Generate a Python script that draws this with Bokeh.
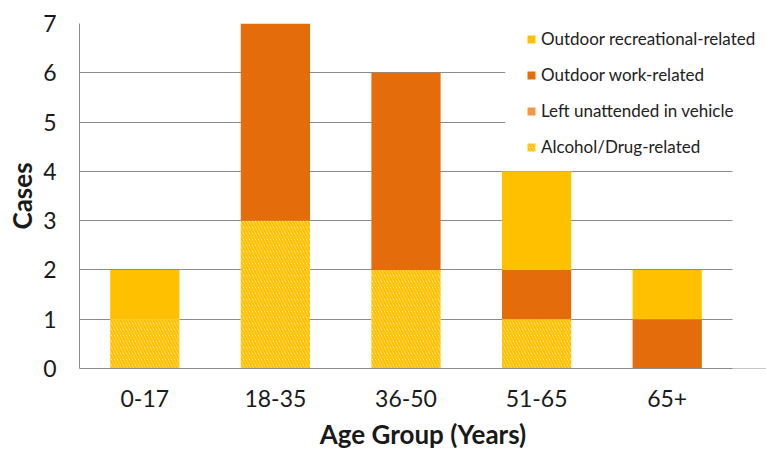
from bokeh.plotting import figure
from bokeh.models import Legend, LegendItem, BoxAnnotation, SingleIntervalTicker, FixedTicker, Range1d
from bokeh.transform import stack
from bokeh.embed import file_html
from bokeh.resources import INLINE
from bokeh.models import ColumnDataSource

age_groups = ["0-17", "18-35", "36-50", "51-65", "65+"]
alcohol_drug = [1, 3, 2, 1, 0]
left_in_vehicle = [0, 0, 0, 0, 0]
outdoor_work = [0, 4, 4, 1, 1]
outdoor_rec = [1, 0, 0, 2, 1]

series = ["alcohol_drug", "left_in_vehicle", "outdoor_work", "outdoor_rec"]
labels = {
    "outdoor_rec": "Outdoor recreational-related",
    "outdoor_work": "Outdoor work-related",
    "left_in_vehicle": "Left unattended in vehicle",
    "alcohol_drug": "Alcohol/Drug-related",
}
colors = {
    "alcohol_drug": "#FFC000",
    "left_in_vehicle": "#F79646",
    "outdoor_work": "#E46C0A",
    "outdoor_rec": "#FFC000",
}

n = len(age_groups)
xpos = [i + 0.5 for i in range(n)]

source = ColumnDataSource(dict(
    x=xpos,
    alcohol_drug=alcohol_drug,
    left_in_vehicle=left_in_vehicle,
    outdoor_work=outdoor_work,
    outdoor_rec=outdoor_rec,
))

FONT = "Lato"
W, H = 766, 452
LEFT, RIGHT, TOP, BOTTOM = 79, 0, 23, 84
cat_px = 653 / n                      # pixel width of one category slot
x_end = (W - LEFT - RIGHT) / cat_px   # range extends past the last category for the legend

p = figure(
    x_range=Range1d(0, x_end),
    y_range=Range1d(0, 7),
    width=W, height=H,
    min_border_left=LEFT, min_border_right=RIGHT, min_border_top=TOP, min_border_bottom=BOTTOM,
    output_backend="svg", toolbar_location=None,
)

renderers = {}
for i, s in enumerate(series):
    if s == "alcohol_drug":
        kw = dict(fill_color="white", hatch_pattern="left_diagonal_line",
                  hatch_color="#FFC000", hatch_scale=6, hatch_weight=2.4,
                  line_color=None)
    else:
        kw = dict(fill_color=colors[s], line_color=None)
    r = p.vbar(x="x", width=0.53, bottom=stack(*series[:i]), top=stack(*series[:i + 1]),
               source=source, **kw)
    renderers[s] = r

# white areas: behind the legend, and right of the last category
p.add_layout(BoxAnnotation(left=3.26, right=x_end, bottom=4.16, top=7.3,
                           fill_color="white", fill_alpha=1, line_color=None))
p.add_layout(BoxAnnotation(left=n, right=x_end + 1, bottom=-0.5, top=7.3,
                           fill_color="white", fill_alpha=1, line_color=None))

legend = Legend(
    items=[LegendItem(label=labels[s], renderers=[renderers[s]])
           for s in ["outdoor_rec", "outdoor_work", "left_in_vehicle", "alcohol_drug"]],
    location=(447, 211),
    glyph_width=10, glyph_height=10, label_height=20, spacing=15, padding=10,
    label_standoff=5, label_text_font=FONT, label_text_font_size="17px",
    label_text_color="#222222",
    background_fill_alpha=0, border_line_color=None,
)
p.add_layout(legend)

p.xgrid.grid_line_color = None
p.ygrid.grid_line_color = "#8C8C8C"
p.ygrid.grid_line_width = 1
p.yaxis.ticker = SingleIntervalTicker(interval=1)
p.xaxis.ticker = FixedTicker(ticks=xpos)
p.xaxis.major_label_overrides = {x: g for x, g in zip(xpos, age_groups)}
p.outline_line_color = None

for ax in [p.xaxis[0], p.yaxis[0]]:
    ax.axis_line_color = "#8C8C8C"
    ax.major_tick_line_color = None
    ax.minor_tick_line_color = None
    ax.major_label_text_font = FONT
    ax.major_label_text_font_size = "23px"
    ax.major_label_text_color = "#1a1a1a"
    ax.axis_label_text_font = FONT
    ax.axis_label_text_font_size = "26px"
    ax.axis_label_text_font_style = "bold"
    ax.axis_label_text_color = "#1a1a1a"

p.xaxis.axis_label = "Age Group (Years)"
p.yaxis.axis_label = "Cases"
p.xaxis.major_label_standoff = 15
p.xaxis.axis_label_standoff = 8
p.yaxis.major_label_standoff = 17
p.yaxis.axis_label_standoff = 2

open("out.html", "w").write(file_html(p, INLINE))
